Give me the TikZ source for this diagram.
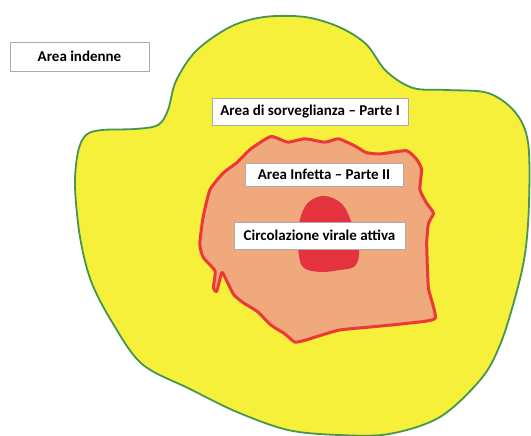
\documentclass[tikz,border=0pt]{standalone}
\usepackage{fontspec}
\setmainfont{Carlito}
\definecolor{zoneyellow}{RGB}{246,240,58}
\definecolor{zonegreen}{RGB}{70,150,80}
\definecolor{zonesalmon}{RGB}{240,168,125}
\definecolor{zonered}{RGB}{236,56,56}
\definecolor{blobred}{RGB}{228,50,62}
\tikzset{
  lbl/.style={draw=gray!65, line width=0.8pt, fill=white, inner sep=0pt,
    font=\fontsize{15}{17}\selectfont\bfseries, text=black},
}
\begin{document}
\begin{tikzpicture}[x=1pt,y=-1pt]
\useasboundingbox (0,0) rectangle (531,436);
\fill[white] (0,0) rectangle (531,436);
% surveillance area
\draw[zonegreen, line width=1.8pt, fill=zoneyellow] plot[smooth cycle, tension=0.55] coordinates {
 (86,135) (102,130) (135,129) (158,125) (168,110) (176,81) (196,51) (230,27) (264,17) (305,17)
 (339,27) (366,44) (386,71) (413,88) (447,90) (488,93) (515,112) (528,142) (529,203)
 (525,254) (515,298) (500,345) (481,379) (440,417) (389,434) (339,435) (288,430) (237,412)
 (190,389) (142,364) (112,322) (91,281) (80,237) (75,186) (78,152)};
% infected area
\draw[zonered, line width=3pt, fill=zonesalmon, line join=round] plot[smooth cycle, tension=0.3] coordinates {
 (250.6,149) (270.9,136.5) (287.8,142.2) (304.8,138.8) (325,142.2) (338.6,138.8) (355.6,146.3)
 (365.7,152.4) (379.3,154) (406.4,150.7) (416.5,159.2) (421.6,169.3) (419.9,189.6) (426.7,203.2)
 (433.5,213.3) (428.4,223.5) (426.7,243.8) (428.4,287.8) (435.2,318.3) (406.4,323.4) (372.5,326.8)
 (338.6,330.2) (304.8,340.3) (294.6,342) (284.5,333.6) (270.9,325.1) (257.4,311.5) (243.8,303.1)
 (233.7,294.6) (225.2,277.7) (221.8,272.6) (216.7,291.2) (213.3,287.8) (215,270.9) (203.2,257.4)
 (199.8,243.8) (203.2,216.7) (210,189.6) (223.5,172.7) (237,162.5)};
% active circulation
\fill[blobred] plot[smooth cycle, tension=0.6] coordinates {
 (325,196) (310,201) (302,213) (298,232) (299,256) (304,268) (320,272) (340,270) (355,266)
 (359,250) (352,224) (342,204)};
% labels
\node[lbl, minimum width=139pt, minimum height=29pt] (indenne) at (79.5,56.5) {Area indenne};
\node[lbl, minimum width=196pt, minimum height=27pt] (sorv) at (310,111.5) {Area di sorveglianza – Parte I};
\node[lbl, minimum width=158pt, minimum height=23pt] (infetta) at (324,174.5) {Area Infetta – Parte II};
\node[lbl, minimum width=171pt, minimum height=27pt] (circ) at (319.5,235.5) {Circolazione virale attiva};
\end{tikzpicture}
\end{document}
